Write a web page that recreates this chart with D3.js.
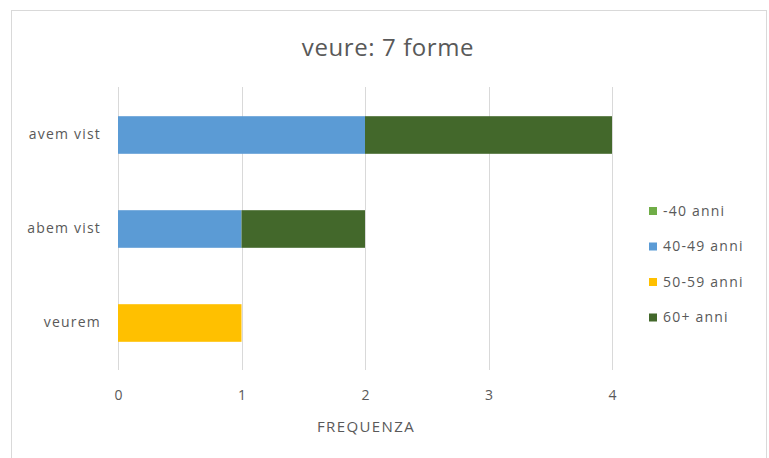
<!DOCTYPE html>
<html><head><meta charset="utf-8">
<script src="https://cdn.jsdelivr.net/npm/d3@7"></script>
<style>body{margin:0;background:#fff}svg{display:block}text{font-family:"Open Sans","Noto Sans",sans-serif}</style>
</head><body><svg id="c" width="769" height="458"></svg>
<script>
const categories = ["avem vist", "abem vist", "veurem"];
const seriesNames = ["-40 anni", "40-49 anni", "50-59 anni", "60+ anni"];
const s_under40 = [0, 0, 0];
const s_40_49 = [2, 1, 0];
const s_50_59 = [0, 0, 1];
const s_60plus = [2, 1, 0];
const xTicks = [0, 1, 2, 3, 4];
const colors = ["#70AD47", "#5B9BD5", "#FFC000", "#43682B"];
const title = "veure: 7 forme";
const xTitle = "FREQUENZA";

const svg = d3.select("#c");
svg.append("rect").attr("x", 11.5).attr("y", 10.5).attr("width", 755).attr("height", 460)
  .attr("fill", "#fff").attr("stroke", "#d9d9d9").attr("stroke-width", 1);

const rows = categories.map((c, i) => ({cat: c, "-40 anni": s_under40[i], "40-49 anni": s_40_49[i], "50-59 anni": s_50_59[i], "60+ anni": s_60plus[i]}));
const stack = d3.stack().keys(seriesNames)(rows);

const x = d3.scaleLinear().domain([0, 4]).range([118, 612]);
const y = d3.scaleBand().domain(categories).range([88, 370]).paddingInner(0.6).paddingOuter(0.3);

const g = svg.append("g");
g.selectAll("line.grid").data(xTicks).join("line")
  .attr("x1", d => Math.round(x(d)) + 0.5).attr("x2", d => Math.round(x(d)) + 0.5)
  .attr("y1", 87).attr("y2", 370).attr("stroke", "#d9d9d9").attr("stroke-width", 1);

stack.forEach((s, si) => {
  g.selectAll(null).data(s).join("rect")
    .attr("x", d => x(d[0])).attr("width", d => x(d[1]) - x(d[0]))
    .attr("y", d => y(d.data.cat)).attr("height", y.bandwidth())
    .attr("fill", colors[si]);
});

const xAxis = svg.append("g").attr("transform", "translate(0,370)")
  .call(d3.axisBottom(x).tickValues(xTicks).tickSize(0).tickPadding(20).tickFormat(d3.format("d")));
xAxis.select(".domain").remove();
xAxis.selectAll("text").attr("font-size", 14).attr("fill", "#595959").style("font-family", "'Open Sans',sans-serif");

const yAxis = svg.append("g").attr("transform", "translate(118,0)")
  .call(d3.axisLeft(y).tickSize(0).tickPadding(17));
yAxis.select(".domain").remove();
yAxis.selectAll("text").attr("font-size", 14).attr("letter-spacing", "1.2px").attr("fill", "#595959").style("font-family", "'Open Sans',sans-serif");

svg.append("text").attr("x", 388).attr("y", 56).attr("text-anchor", "middle")
  .attr("font-size", 24).attr("letter-spacing", "0.6px").attr("fill", "#595959").text(title);

svg.append("text").attr("x", 366).attr("y", 432).attr("text-anchor", "middle")
  .attr("font-size", 15).attr("letter-spacing", "1.4px").attr("fill", "#595959").text(xTitle);

const leg = svg.append("g");
seriesNames.forEach((n, i) => {
  const yy = 211 + i * 35.5;
  leg.append("rect").attr("x", 649).attr("y", yy - 4).attr("width", 8).attr("height", 8).attr("fill", colors[i]);
  leg.append("text").attr("x", 663).attr("y", yy).attr("dy", "0.35em").attr("font-size", 14)
    .attr("letter-spacing", "1.2px").attr("fill", "#595959").text(n);
});
</script></body></html>
